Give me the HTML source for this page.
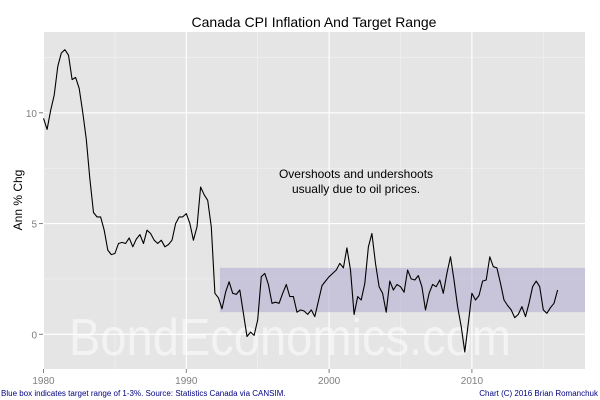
<!DOCTYPE html>
<html><head><meta charset="utf-8"><style>
body{margin:0;background:#fff}
svg{display:block;font-family:"Liberation Sans",Arial,sans-serif}
</style></head><body>
<svg id="chart" width="600" height="400" viewBox="0 0 600 400">
<rect x="0" y="0" width="600" height="400" fill="#fff"/>
<rect x="43" y="32" width="542" height="337" fill="#e5e5e5"/>
<g id="grid"></g>
<g id="band"></g>
<text x="290" y="355" font-size="52" fill="#ffffff" fill-opacity="0.55" text-anchor="middle" textLength="442" lengthAdjust="spacingAndGlyphs">BondEconomics.com</text>
<g id="series"></g>
<g id="axes"></g>
<text x="314" y="27" font-size="14" text-anchor="middle" fill="#000">Canada CPI Inflation And Target Range</text>
<text x="356" y="178" font-size="12" text-anchor="middle" fill="#000">Overshoots and undershoots</text>
<text x="356" y="193" font-size="12" text-anchor="middle" fill="#000">usually due to oil prices.</text>
<text transform="translate(22,200) rotate(-90)" font-size="12" text-anchor="middle" fill="#000">Ann % Chg</text>
<text x="1" y="396" font-size="8" fill="#000080">Blue box indicates target range of 1-3%. Source: Statistics Canada via CANSIM.</text>
<text x="598" y="396" font-size="8" fill="#000080" text-anchor="end">Chart (C) 2016 Brian Romanchuk</text>
</svg>
<script>
const startYear = 1980;
const stepYears = 0.25;
const cpiValues = [9.75,9.25,10.1,10.8,12.1,12.7,12.85,12.6,11.5,11.6,11.1,10.0,8.8,7.0,5.5,5.3,5.3,4.7,3.8,3.6,3.65,4.1,4.15,4.1,4.35,3.95,4.3,4.5,4.1,4.7,4.55,4.25,4.1,4.25,3.95,4.05,4.25,5.0,5.3,5.3,5.45,5.0,4.25,4.85,6.65,6.3,6.05,4.85,1.85,1.65,1.15,1.9,2.37,1.85,1.8,2.0,0.95,-0.1,0.1,-0.05,0.65,2.6,2.75,2.25,1.4,1.45,1.4,1.85,2.25,1.7,1.7,1.0,1.1,1.05,0.9,1.1,0.8,1.5,2.2,2.4,2.6,2.75,2.9,3.2,3.0,3.9,2.9,0.9,1.7,1.55,2.3,3.95,4.55,3.2,2.15,1.85,1.0,2.4,2.0,2.25,2.15,1.9,2.9,2.5,2.45,2.65,2.15,1.1,1.85,2.25,2.15,2.45,1.85,2.75,3.5,2.45,1.25,0.35,-0.8,0.5,1.85,1.55,1.75,2.4,2.45,3.5,3.05,3.0,2.3,1.55,1.3,1.1,0.75,0.9,1.25,0.8,1.4,2.15,2.4,2.15,1.1,0.95,1.2,1.4,2.0];
const bandLow = [1];
const bandHigh = [3];
const bandStart = [1992.35];
const xTicks = [1980,1990,2000,2010];
const yTicks = [0,5,10];
const yMinor = [-2.5,2.5,7.5,12.5];

const NS="http://www.w3.org/2000/svg";
const X0=43, X1=585, Y0=32, Y1=369;
function xs(y){return 43.5+(y-1980)*14.28;}
function ys(v){return 334.3-v*22.15;}
function mk(tag,attrs,parent){const e=document.createElementNS(NS,tag);for(const k in attrs)e.setAttribute(k,attrs[k]);document.getElementById(parent).appendChild(e);return e;}

yMinor.forEach(v=>{const y=ys(v);if(y<Y0||y>Y1)return;
 const l=mk('line',{x1:X0,x2:X1,y1:y,y2:y,stroke:'#f2f2f2','stroke-width':0.6},'grid');
 
 });
xTicks.map(t=>t+5).forEach(t=>{const x=xs(t);if(x>X1)return;
 const l=mk('line',{x1:x,x2:x,y1:Y0,y2:Y1,stroke:'#f2f2f2','stroke-width':0.6},'grid');
 
 });
yTicks.forEach(v=>{const y=ys(v);
 const l=mk('line',{x1:X0,x2:X1,y1:y,y2:y,stroke:'#fff','stroke-width':1.1},'grid');
 
 
 const tk=mk('line',{x1:X0-4,x2:X0,y1:y,y2:y,stroke:'#7f7f7f','stroke-width':1},'axes');
 
 
 const t=mk('text',{x:X0-6,y:y+4,'font-size':10,'text-anchor':'end',fill:'#7f7f7f'},'axes');
 t.textContent=v;
 
 });
xTicks.forEach(v=>{const x=xs(v);
 const l=mk('line',{x1:x,x2:x,y1:Y0,y2:Y1,stroke:'#fff','stroke-width':1.1},'grid');
 
 
 const tk=mk('line',{x1:x,x2:x,y1:Y1,y2:Y1+4,stroke:'#7f7f7f','stroke-width':1},'axes');
 
 
 const t=mk('text',{x:x,y:384,'font-size':10,'text-anchor':'middle',fill:'#7f7f7f'},'axes');
 t.textContent=v;
 
 });
const bx=xs(bandStart[0]);
const b=mk('rect',{x:bx,y:ys(bandHigh[0]),width:X1-bx,height:ys(bandLow[0])-ys(bandHigh[0]),fill:'#b0aad0','fill-opacity':0.55},'band');


const pts=cpiValues.map((v,i)=>xs(startYear+i*stepYears).toFixed(1)+','+ys(v).toFixed(1)).join(' ');
const pl=mk('polyline',{points:pts,fill:'none',stroke:'#000','stroke-width':1.1,'stroke-linejoin':'round'},'series');


</script>
</body></html>
